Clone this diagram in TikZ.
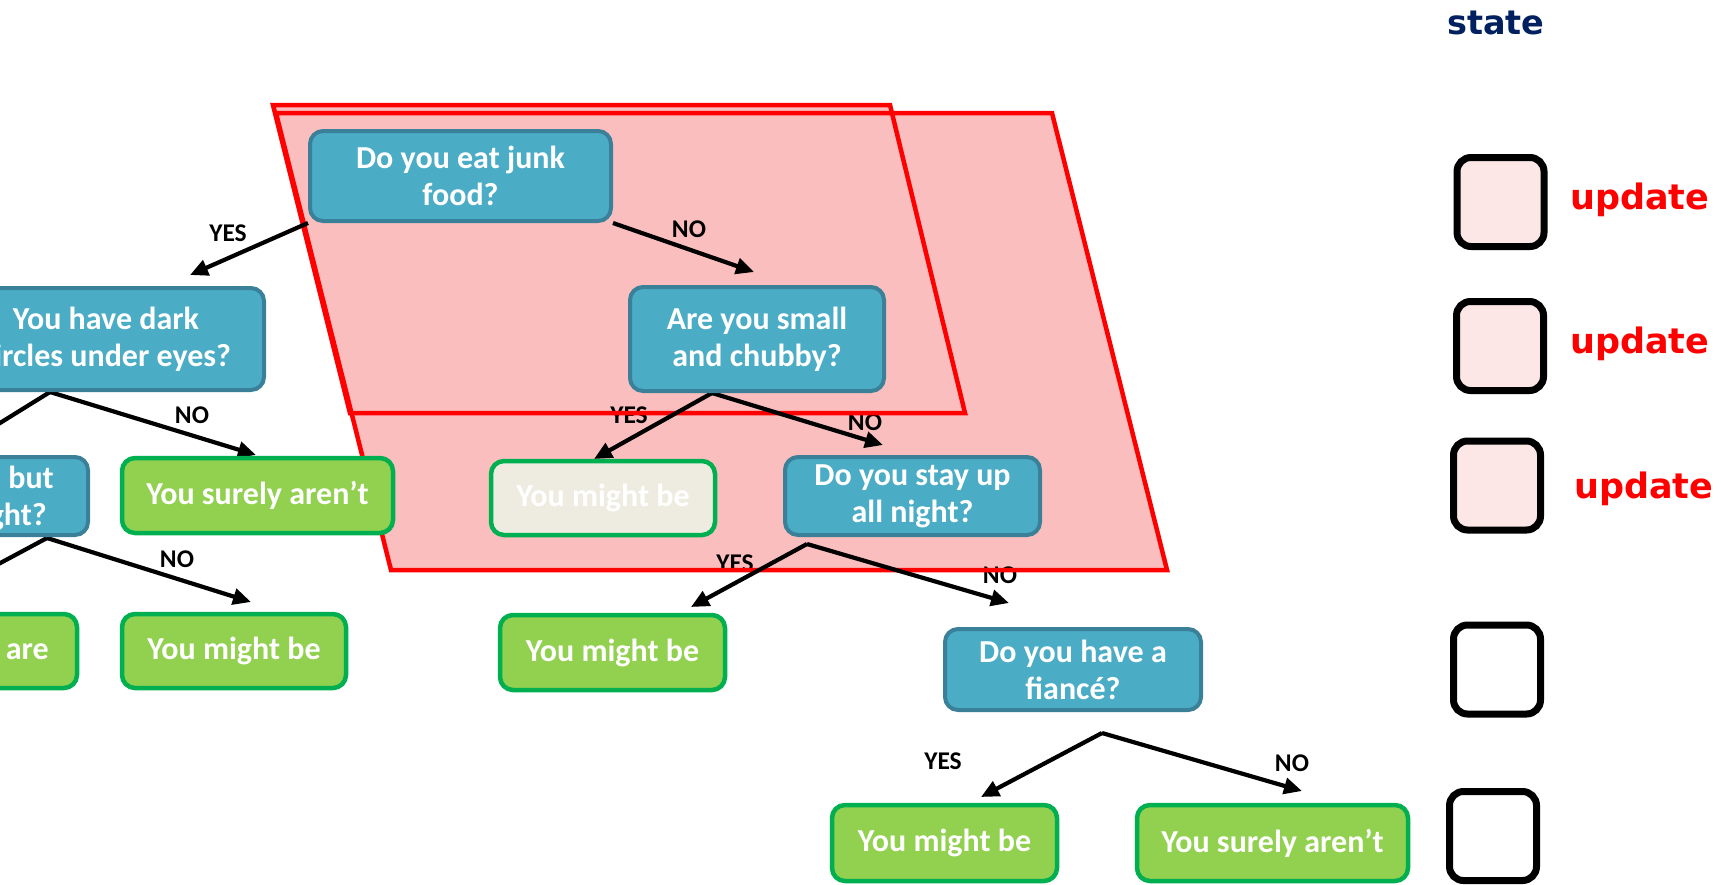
\documentclass[tikz,border=0pt]{standalone}
\usepackage{fontspec}
\setmainfont{Carlito}
\newfontfamily\vfont{DejaVu Sans}
\usetikzlibrary{arrows.meta}
\definecolor{qfill}{HTML}{4BACC6}
\definecolor{qedge}{HTML}{3A8099}
\definecolor{lfill}{HTML}{92D050}
\definecolor{ledge}{HTML}{00B050}
\definecolor{fadefill}{HTML}{EEECE1}
\definecolor{zone}{RGB}{251,190,190}
\definecolor{slotfill}{RGB}{253,230,230}
\definecolor{navy}{HTML}{002060}
\pgfdeclarelayer{back}
\pgfdeclarelayer{mid}
\pgfsetlayers{back,mid,main}
\tikzset{
  box/.style={rounded corners=13pt, line width=4pt, text=white, align=center,
    inner sep=0pt, font=\bfseries\fontsize{32}{37}\selectfont},
  qbox/.style={box, draw=qedge, fill=qfill},
  leaf/.style={box, draw=ledge, fill=lfill, line width=4.5pt},
  faded/.style={leaf, fill=fadefill},
  frag/.style={text=white, inner sep=0pt, font=\bfseries\fontsize{32}{37}\selectfont},
  lbl/.style={inner sep=0pt, font=\bfseries\fontsize{25.5}{30}\selectfont},
  arr/.style={line width=4.2pt, -{Triangle[length=18pt,width=16pt]}},
  zoneedge/.style={draw=red, line width=4.5pt, line join=miter},
  slot/.style={draw=black, line width=7pt, rounded corners=14pt,
    minimum width=87pt, minimum height=89pt, inner sep=0pt},
  upd/.style={text=red, anchor=base west, inner sep=0pt,
    font=\vfont\bfseries\fontsize{35}{40}\selectfont}
}
\begin{document}
\begin{tikzpicture}[x=1pt,y=-1pt]
\useasboundingbox (0,0) rectangle (1721,884);
\clip (0,0) rectangle (1721,884);

% decision tree
\node[qbox, minimum width=301pt, minimum height=90pt] (junk) at (460.5,176) {Do you eat junk\\food?};
\node[qbox, minimum width=316pt, minimum height=102pt] (dark) at (106,339) {You have dark\\circles under eyes?};
\node[qbox, minimum width=254pt, minimum height=104pt] (chubby) at (757,339) {Are you small\\and chubby?};
\node[faded, minimum width=224pt, minimum height=74pt] (mightA) at (603,498) {You might be};
\node[qbox, minimum width=255pt, minimum height=78pt] (stay) at (912.5,496) {Do you stay up\\all night?};
\node[leaf, minimum width=271pt, minimum height=75pt] (surelyA) at (257.5,495.5) {You surely aren’t};
\node[qbox, minimum width=236pt, minimum height=78pt] (night) at (-30,496) {};
\node[frag, anchor=base east] (nightA) at (54,488) {but};
\node[frag, anchor=base east] (nightB) at (47,525) {ght?};
\node[leaf, minimum width=225pt, minimum height=74pt] (are) at (-35.5,651) {};
\node[frag, anchor=base east] (areT) at (49,659) {are};
\node[leaf, minimum width=224pt, minimum height=74pt] (mightL) at (234,651) {You might be};
\node[leaf, minimum width=225pt, minimum height=75pt] (mightM) at (612.5,652.5) {You might be};
\node[qbox, minimum width=256pt, minimum height=81pt] (fiance) at (1073,669.5) {Do you have a\\fiancé?};
\node[leaf, minimum width=225pt, minimum height=76pt] (mightR) at (944.5,843) {You might be};
\node[leaf, minimum width=271pt, minimum height=76pt] (surelyR) at (1272.5,843) {You surely aren’t};

% branch points and arrow tips
\coordinate (bDark) at (50,392);
\coordinate (bNight) at (47,538);
\coordinate (bChubby) at (712,393);
\coordinate (bStay) at (807,544);
\coordinate (bFiance) at (1102,733);
\coordinate (tJunkY) at (190,275);
\coordinate (tJunkN) at (754,272);
\coordinate (tDarkY) at (-50,454);
\coordinate (tDarkN) at (256,455);
\coordinate (tNightY) at (-50,590);
\coordinate (tNightN) at (251,602);
\coordinate (tChubbyY) at (594,459);
\coordinate (tChubbyN) at (883,445);
\coordinate (tStayY) at (691,607);
\coordinate (tStayN) at (1009,603);
\coordinate (tFianceY) at (981,797);
\coordinate (tFianceN) at (1302,791);

% highlighted zones and branch labels
\begin{pgfonlayer}{back}
  \fill[zone] (276,113) -- (1052,113) -- (1167,570) -- (391,570) -- cycle;
  \fill[zone] (273,105) -- (890,105) -- (965,413) -- (350,413) -- cycle;
  \node[lbl] (yJunk) at (228,233) {YES};
  \node[lbl] (nJunk) at (689,229) {NO};
  \node[lbl] (nDark) at (192,415) {NO};
  \node[lbl] (yChubby) at (629,415) {YES};
  \node[lbl] (nChubby) at (865,422) {NO};
  \node[lbl] (nNight) at (177,559) {NO};
  \node[lbl] (yStay) at (735,563) {YES};
  \node[lbl] (nStay) at (1000,575) {NO};
  \node[lbl] (yFiance) at (943,761) {YES};
  \node[lbl] (nFiance) at (1292,763) {NO};
\end{pgfonlayer}

\begin{pgfonlayer}{mid}
  \draw[zoneedge] (276,113) -- (1052,113) -- (1167,570) -- (391,570) -- cycle;
  \draw[zoneedge] (273,105) -- (890,105) -- (965,413) -- (350,413) -- cycle;
  \draw[arr] (junk.south west) -- (tJunkY);
  \draw[arr] (junk.south east) -- (tJunkN);
  \draw[arr] (bDark) -- (tDarkY);
  \draw[arr] (bDark) -- (tDarkN);
  \draw[arr] (bNight) -- (tNightY);
  \draw[arr] (bNight) -- (tNightN);
  \draw[arr] (bChubby) -- (tChubbyY);
  \draw[arr] (bChubby) -- (tChubbyN);
  \draw[arr] (bStay) -- (tStayY);
  \draw[arr] (bStay) -- (tStayN);
  \draw[arr] (bFiance) -- (tFianceY);
  \draw[arr] (bFiance) -- (tFianceN);
\end{pgfonlayer}

% state column
\node[anchor=base, text=navy, inner sep=0pt, font=\vfont\bfseries\fontsize{33.5}{40}\selectfont] (title) at (1496,34) {state};
\node[slot, fill=slotfill] (s1) at (1500.5,202) {};
\node[slot, fill=slotfill] (s2) at (1500,346) {};
\node[slot, fill=slotfill] (s3) at (1497,485.5) {};
\node[slot, fill=white] (s4) at (1497,669.5) {};
\node[slot, fill=white] (s5) at (1493,836) {};
\node[upd] (u1) at (1570,209) {update};
\node[upd] (u2) at (1570,353) {update};
\node[upd] (u3) at (1574,498) {update};
\end{tikzpicture}
\end{document}
